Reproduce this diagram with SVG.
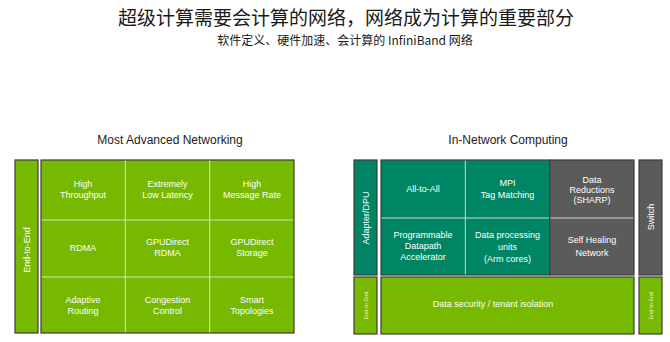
<svg xmlns="http://www.w3.org/2000/svg" width="670" height="342" viewBox="0 0 670 342">
<style>
.t{font-family:"Noto Sans CJK SC","Noto Sans",sans-serif;fill:#1a1a1a;text-anchor:middle}
.h{font-family:"Liberation Sans","Noto Sans",sans-serif;font-size:12px;fill:#222;text-anchor:middle}
.c{font-family:"Liberation Sans",Arial,sans-serif;font-size:9px;fill:#ffffff;text-anchor:middle}
.g{fill:#76b900;stroke:#3c3c3c;stroke-width:1.2}
.tl{fill:#008564;stroke:#3c3c3c;stroke-width:1.2}
.gy{fill:#5b5b5b;stroke:#3c3c3c;stroke-width:1.2}
.d{stroke:#e6efd6;stroke-width:1;opacity:0.85}
.s{font-family:"Liberation Sans",Arial,sans-serif;font-size:5.5px;fill:#e8f4c8;text-anchor:middle}
</style>
<text class="t" x="346" y="24.5" font-size="19">超级计算需要会计算的网络，网络成为计算的重要部分</text>
<text class="t" x="345" y="45" font-size="12">软件定义、硬件加速、会计算的 InfiniBand 网络</text>
<text class="h" x="170" y="144">Most Advanced Networking</text>
<text class="h" x="508" y="144">In-Network Computing</text>

<g id="left-bar">
<rect class="g" x="15" y="160" width="23" height="173"/>
<text class="c" transform="translate(29.5,250) rotate(-90)">End-to-End</text>
</g>
<g id="left-grid">
<rect class="g" x="41" y="160" width="253" height="173"/>
<line class="d" x1="125.3" y1="160.6" x2="125.3" y2="332.4"/>
<line class="d" x1="209.7" y1="160.6" x2="209.7" y2="332.4"/>
<line class="d" x1="41.6" y1="220" x2="293.4" y2="220"/>
<line class="d" x1="41.6" y1="277" x2="293.4" y2="277"/>
</g>
<g id="high-throughput"><text class="c" x="83" y="187">High</text><text class="c" x="83" y="198">Throughput</text></g>
<g id="low-latency"><text class="c" x="167.5" y="187">Extremely</text><text class="c" x="167.5" y="198">Low Latency</text></g>
<g id="message-rate"><text class="c" x="252" y="187">High</text><text class="c" x="252" y="198">Message Rate</text></g>
<g id="rdma"><text class="c" x="83" y="251">RDMA</text></g>
<g id="gpudirect-rdma"><text class="c" x="167.5" y="245">GPUDirect</text><text class="c" x="167.5" y="256">RDMA</text></g>
<g id="gpudirect-storage"><text class="c" x="252" y="245">GPUDirect</text><text class="c" x="252" y="256">Storage</text></g>
<g id="adaptive-routing"><text class="c" x="83" y="303">Adaptive</text><text class="c" x="83" y="314">Routing</text></g>
<g id="congestion-control"><text class="c" x="167.5" y="303">Congestion</text><text class="c" x="167.5" y="314">Control</text></g>
<g id="smart-topologies"><text class="c" x="252" y="303">Smart</text><text class="c" x="252" y="314">Topologies</text></g>

<g id="adapter-bar">
<rect class="tl" x="354" y="160" width="23" height="115"/>
<text class="c" font-size="9.5" transform="translate(368.5,218) rotate(-90)">Adapter/DPU</text>
</g>
<g id="dpu-grid">
<rect class="tl" x="381" y="160" width="168.7" height="115"/>
<line class="d" x1="465.3" y1="160.6" x2="465.3" y2="274.4"/>
<line class="d" x1="381.6" y1="218" x2="549" y2="218"/>
</g>
<g id="switch-grid">
<rect class="gy" x="549.7" y="160" width="84.3" height="115"/>
<line class="d" x1="550.3" y1="218" x2="633.4" y2="218"/>
</g>
<g id="switch-bar">
<rect class="gy" x="639" y="160" width="23" height="115"/>
<text class="c" font-size="9.5" transform="translate(653.5,217) rotate(-90)">Switch</text>
</g>
<g id="all-to-all"><text class="c" font-size="9.5" x="423" y="192">All-to-All</text></g>
<g id="mpi-tag"><text class="c" font-size="9.5" x="507.5" y="186">MPI</text><text class="c" font-size="9.5" x="507.5" y="198">Tag Matching</text></g>
<g id="sharp"><text class="c" font-size="9.5" x="592" y="182.5">Data</text><text class="c" font-size="9.5" x="592" y="192.5">Reductions</text><text class="c" font-size="9.5" x="592" y="202.5">(SHARP)</text></g>
<g id="datapath-accel"><text class="c" font-size="9.5" x="423" y="238">Programmable</text><text class="c" font-size="9.5" x="423" y="249">Datapath</text><text class="c" font-size="9.5" x="423" y="260">Accelerator</text></g>
<g id="dpu-units"><text class="c" font-size="9.5" x="507.5" y="238">Data processing</text><text class="c" font-size="9.5" x="507.5" y="249.5">units</text><text class="c" font-size="9.5" x="507.5" y="262">(Arm cores)</text></g>
<g id="self-healing"><text class="c" font-size="9.5" x="592" y="243">Self Healing</text><text class="c" font-size="9.5" x="592" y="255.5">Network</text></g>

<g id="e2e-left-small">
<rect class="g" x="354" y="277" width="23" height="57"/>
<text class="s" transform="translate(367.5,305.5) rotate(-90)">End-to-End</text>
</g>
<g id="data-security">
<rect class="g" x="381" y="277" width="253" height="57"/>
<text class="c" font-size="9.5" x="493" y="307">Data security / tenant isolation</text>
</g>
<g id="e2e-right-small">
<rect class="g" x="639" y="277" width="23" height="57"/>
<text class="s" transform="translate(652.5,305.5) rotate(-90)">End-to-End</text>
</g>
<g id="connectors"></g>
</svg>
